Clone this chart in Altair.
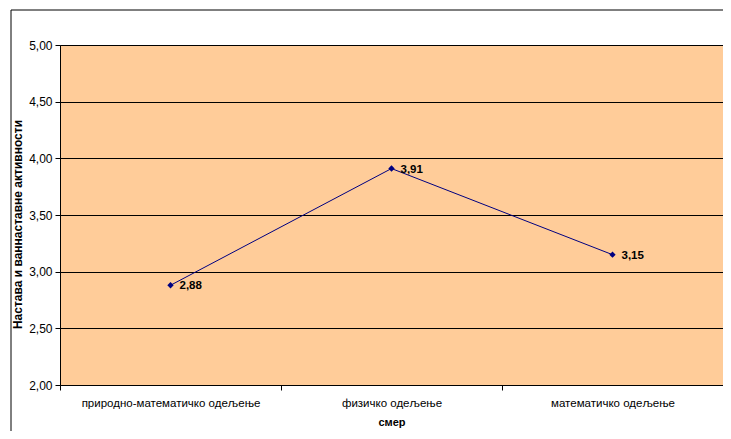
import altair as alt
import pandas as pd

categories = ["природно-математичко одељење", "физичко одељење", "математичко одељење"]
values = [2.88, 3.91, 3.15]
labels = ["2,88", "3,91", "3,15"]
y_ticks = [2.0, 2.5, 3.0, 3.5, 4.0, 4.5, 5.0]

df = pd.DataFrame({"cat": categories, "val": values, "lab": labels, "ord": [0, 1, 2]})

FONT = "Liberation Sans"
W, H = 663, 340

x_enc = alt.X("cat:N", sort=categories,
              scale=alt.Scale(paddingInner=0, paddingOuter=0),
              axis=alt.Axis(title="смер", labelAngle=0, tickBand="extent",
                            domainColor="black", tickColor="black", tickSize=5,
                            labelFont=FONT, labelFontSize=11.5, labelColor="black",
                            labelPadding=7,
                            titleFont=FONT, titleFontSize=11, titleFontWeight="bold",
                            titleColor="black", titlePadding=8, grid=False))
y_enc = alt.Y("val:Q", scale=alt.Scale(domain=[2, 5], nice=False, zero=False),
              axis=alt.Axis(title="Настава и ваннаставне активности", values=y_ticks,
                            labelExpr="replace(format(datum.value, '.2f'), '.', ',')",
                            domainColor="black", tickColor="black", tickSize=5,
                            labelFont=FONT, labelFontSize=12, labelColor="black",
                            labelPadding=3,
                            grid=True, gridColor="black", gridWidth=1, gridOpacity=1,
                            titleFont=FONT, titleFontSize=12, titleFontWeight="bold",
                            titleColor="black", titleX=-36, titleY=179))

base = alt.Chart(df)

border = base.mark_rect(fill=None, stroke="black", strokeWidth=1).encode(
    x=alt.value(-49), x2=alt.value(900), y=alt.value(-35), y2=alt.value(700)
).transform_filter("datum.ord == 1")

line = base.mark_line(color="#000080", strokeWidth=1).encode(
    x=x_enc, y=y_enc, order="ord:Q")
pts = base.mark_point(shape="diamond", filled=True, color="#000080", size=40, opacity=1).encode(
    x=x_enc, y=y_enc)
txt = base.mark_text(align="left", baseline="middle", dx=9, dy=1, font=FONT,
                     fontSize=11.5, fontWeight="bold", color="black").encode(
    x=x_enc, y=y_enc, text="lab:N")

chart = alt.layer(line, pts, txt, border).properties(
    width=W, height=H,
    autosize=alt.AutoSizeParams(type="none"),
    padding={"left": 52, "top": 37, "right": 0, "bottom": 46},
    background="white",
).configure_view(fill="#FFCC99", stroke="#808080", strokeWidth=1)

chart.save("out.html", embed_options={"renderer": "svg", "actions": False})
